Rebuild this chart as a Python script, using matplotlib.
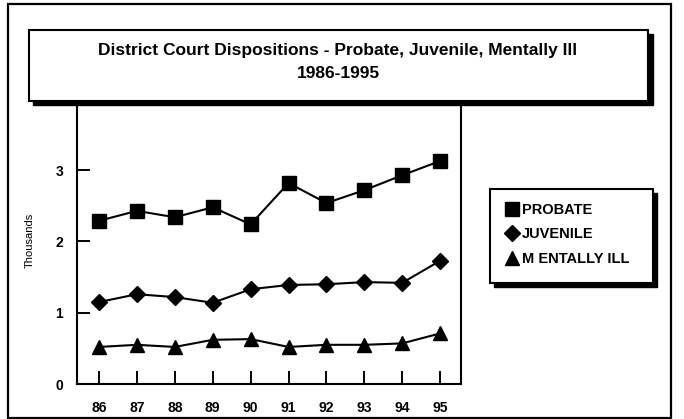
import matplotlib.pyplot as plt
from matplotlib.patches import Rectangle
from matplotlib.lines import Line2D

plt.rcParams['font.family'] = ['Liberation Sans', 'DejaVu Sans']

years = [86, 87, 88, 89, 90, 91, 92, 93, 94, 95]
probate = [2.29, 2.43, 2.34, 2.48, 2.24, 2.82, 2.54, 2.72, 2.93, 3.13]
juvenile = [1.15, 1.26, 1.22, 1.14, 1.33, 1.39, 1.40, 1.43, 1.42, 1.73]
mentally_ill = [0.52, 0.55, 0.52, 0.62, 0.63, 0.52, 0.55, 0.55, 0.57, 0.71]
series_names = ["PROBATE", "JUVENILE", "M ENTALLY ILL"]
title_1 = "District Court Dispositions - Probate, Juvenile, Mentally Ill"
title_2 = "1986-1995"

W, H = 684, 419
fig = plt.figure(figsize=(W / 100, H / 100), dpi=100)


def px_rect(x0, y0, x1, y1, **kw):
    # rectangle given in image pixel coords (origin top-left)
    return Rectangle((x0 / W, 1 - y1 / H), (x1 - x0) / W, (y1 - y0) / H,
                     transform=fig.transFigure, **kw)


# outer frame
fig.add_artist(px_rect(8, 4, 671, 418, facecolor='none', edgecolor='black',
                       linewidth=1.6, zorder=0))

ax = fig.add_axes([77 / W, 1 - 384 / H, (461 - 77) / W, (384 - 99) / H])
ax.plot(years, probate, color='black', lw=1.5, marker='s', ms=10.5)
ax.plot(years, juvenile, color='black', lw=1.5, marker='D', ms=8)
ax.plot(years, mentally_ill, color='black', lw=1.5, marker='^', ms=10)

ax.set_xlim(85.42, 95.55)
ax.set_ylim(0, 4)
ax.set_xticks(years)
ax.set_xticklabels([str(y) for y in years])
ax.set_yticks([0, 1, 2, 3])
ax.tick_params(direction='in', length=9.5, width=1.4, labelsize=10)
ax.tick_params(axis='x', pad=12)
ax.tick_params(axis='y', pad=10)
for lab in ax.get_xticklabels() + ax.get_yticklabels():
    lab.set_fontweight('bold')
for s in ax.spines.values():
    s.set_linewidth(1.5)
ax.set_ylabel("Thousands", fontsize=8)
ax.yaxis.set_label_coords(-0.109, 0.505)

# title box with drop shadow
fig.add_artist(px_rect(33, 34, 653, 105, facecolor='black', edgecolor='black', zorder=5))
fig.add_artist(px_rect(29, 30, 648, 101, facecolor='white', edgecolor='black',
                       linewidth=1.5, zorder=6))
fig.text(338 / W, 1 - 51 / H, title_1, ha='center', va='center', fontsize=12.5,
         fontweight='bold', zorder=7)
fig.text(338 / W, 1 - 74 / H, title_2, ha='center', va='center', fontsize=12.5,
         fontweight='bold', zorder=7)

# legend box with drop shadow
fig.add_artist(px_rect(494, 193, 657, 287, facecolor='black', edgecolor='black', zorder=5))
fig.add_artist(px_rect(490, 189, 653, 283, facecolor='white', edgecolor='black',
                       linewidth=1.5, zorder=6))
handles = [Line2D([], [], color='black', ls='none', marker='s', ms=10.5),
           Line2D([], [], color='black', ls='none', marker='D', ms=8),
           Line2D([], [], color='black', ls='none', marker='^', ms=10)]
leg = fig.legend(handles, series_names, loc='upper left',
                 bbox_to_anchor=(496 / W, 1 - 193 / H), bbox_transform=fig.transFigure,
                 frameon=False, handlelength=0.8, handletextpad=0.3,
                 labelspacing=0.7, borderpad=0.2,
                 prop={'weight': 'bold', 'size': 10.5})
leg.set_zorder(8)

fig.savefig("out.png", dpi=100)
